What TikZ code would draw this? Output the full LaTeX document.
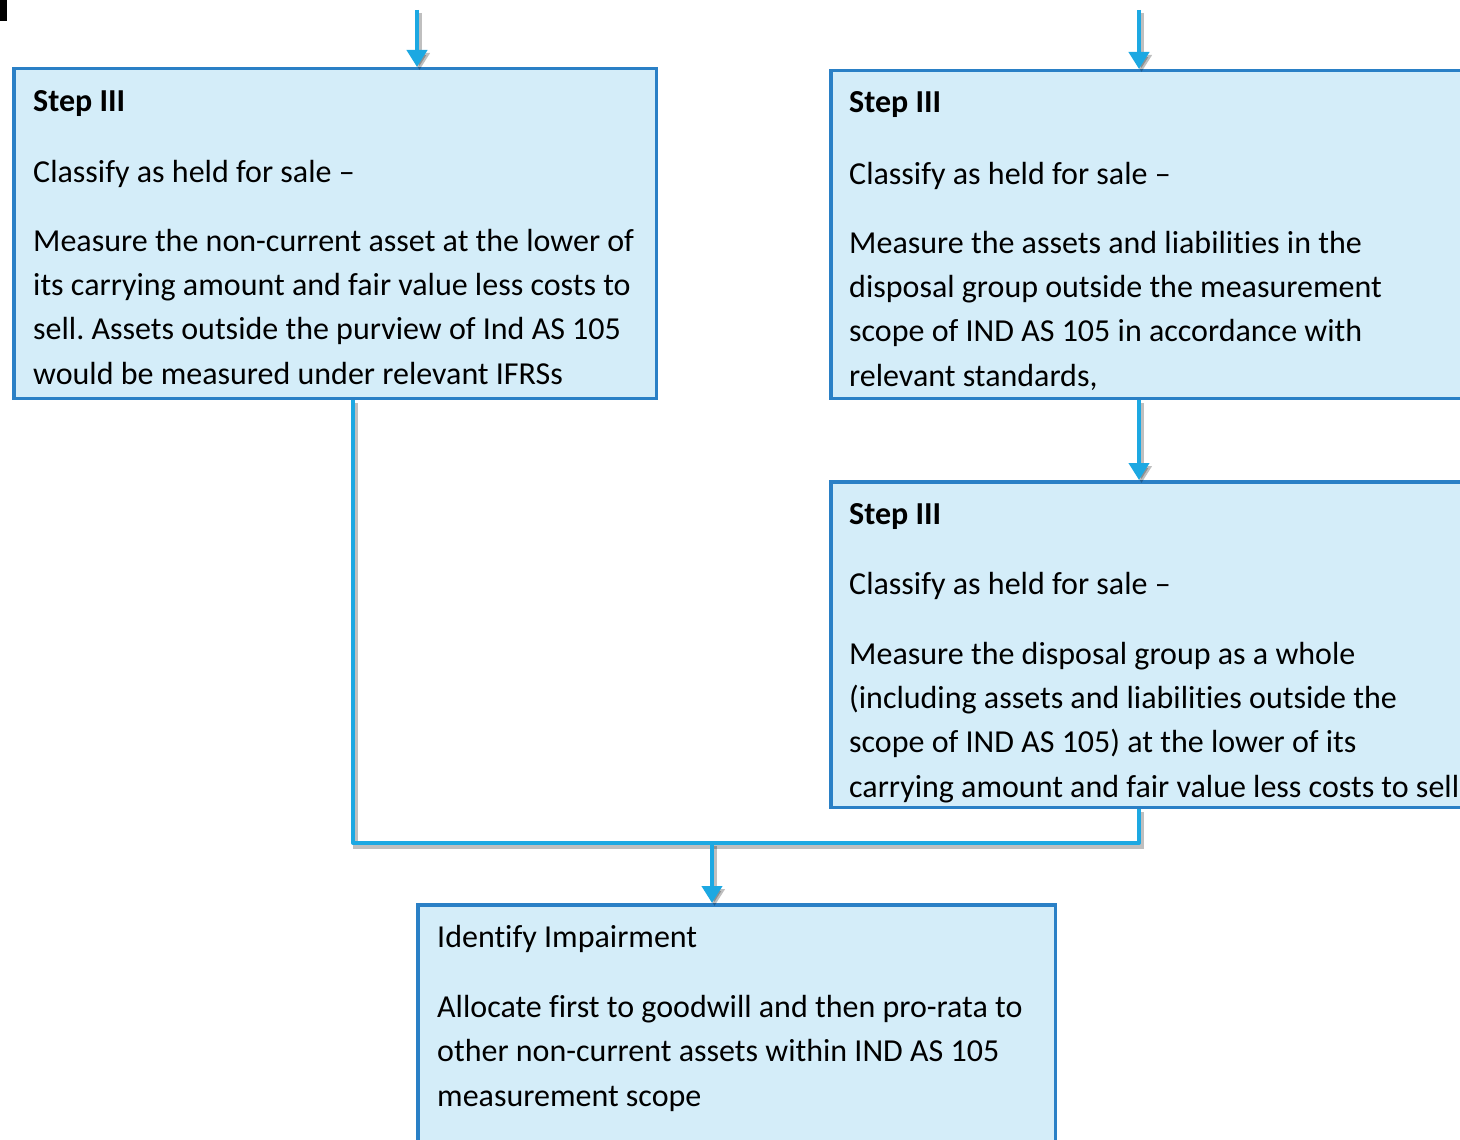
\documentclass[tikz,border=0pt]{standalone}
\usepackage{fontspec}
\setmainfont{Carlito}[Ligatures={NoCommon}]
\frenchspacing
\usetikzlibrary{arrows.meta}
\definecolor{boxline}{HTML}{2A80C6}
\definecolor{boxfill}{HTML}{D4EDF9}
\definecolor{conn}{HTML}{1CA8E2}
\tikzset{
  box/.style={draw=boxline, fill=boxfill, line width=3.5pt, inner sep=0pt, anchor=north west, rectangle},
  txt/.style={anchor=base west, inner sep=0pt, align=left, font=\fontsize{32}{44.3}\selectfont},
  bold/.style={txt, font=\fontsize{32}{44.3}\selectfont\bfseries},
  conline/.style={draw=conn, line width=4pt,
     preaction={draw=black, opacity=0.25, line width=5pt, transform canvas={shift={(2.5pt,-3pt)}}}},
  arr/.style={conline, -{Triangle[width=20pt,length=17pt]}},
}
\begin{document}
\begin{tikzpicture}[x=1pt,y=-1pt]
\useasboundingbox (0,0) rectangle (1460,1140);
\clip (0,0) rectangle (1460,1140);
\fill[black] (0,0) rectangle (7,21);
% boxes (positions are outer corners)
\node[box, minimum width=642.5pt, minimum height=329.5pt] (b1) at (12,67) {};
\node[box, minimum width=680pt, minimum height=327.5pt] (b2) at (829,69) {};
\node[box, minimum width=680pt, minimum height=325.5pt] (b3) at (829,480) {};
\node[box, minimum width=637.5pt, minimum height=300pt] (b4) at (416,903) {};
% texts (multi-line nodes are placed at the baseline of their last line)
\node[bold] (s1) at (33,111) {Step III};
\node[txt] (c1) at (33,182) {Classify as held for sale –};
\node[txt] (m1) at (33,384) {Measure the non-current asset at the lower of\\its carrying amount and fair value less costs to\\sell. Assets outside the purview of Ind AS 105\\would be measured under relevant IFRSs};
\node[bold] (s2) at (849,113) {Step III};
\node[txt] (c2) at (849,184) {Classify as held for sale –};
\node[txt] (m2) at (849,386) {Measure the assets and liabilities in the\\disposal group outside the measurement\\scope of IND AS 105 in accordance with\\relevant standards,};
\node[bold] (s3) at (849,524) {Step III};
\node[txt] (c3) at (849,594) {Classify as held for sale –};
\node[txt] (m3) at (849,797) {Measure the disposal group as a whole\\(including assets and liabilities outside the\\scope of IND AS 105) at the lower of its\\carrying amount and fair value less costs to sell};
\node[txt] (i4) at (437,947) {Identify Impairment};
\node[txt] (a4) at (437,1106) {Allocate first to goodwill and then pro-rata to\\other non-current assets within IND AS 105\\measurement scope};
% connectors
\coordinate (t1) at (417,10);
\coordinate (t2) at (1139,10);
\coordinate (jl) at (353,843);
\coordinate (jr) at (1139,843);
\coordinate (jm) at (712,843);
\draw[arr] (t1) -- (t1 |- b1.north);
\draw[arr] (t2) -- (t2 |- b2.north);
\draw[arr] (t2 |- b2.south) -- (t2 |- b3.north);
\draw[conline, line join=round] (jl |- b1.south) -- (jl) -- (jr) -- (jr |- b3.south);
\draw[arr] (jm) -- (jm |- b4.north);
\end{tikzpicture}
\end{document}
